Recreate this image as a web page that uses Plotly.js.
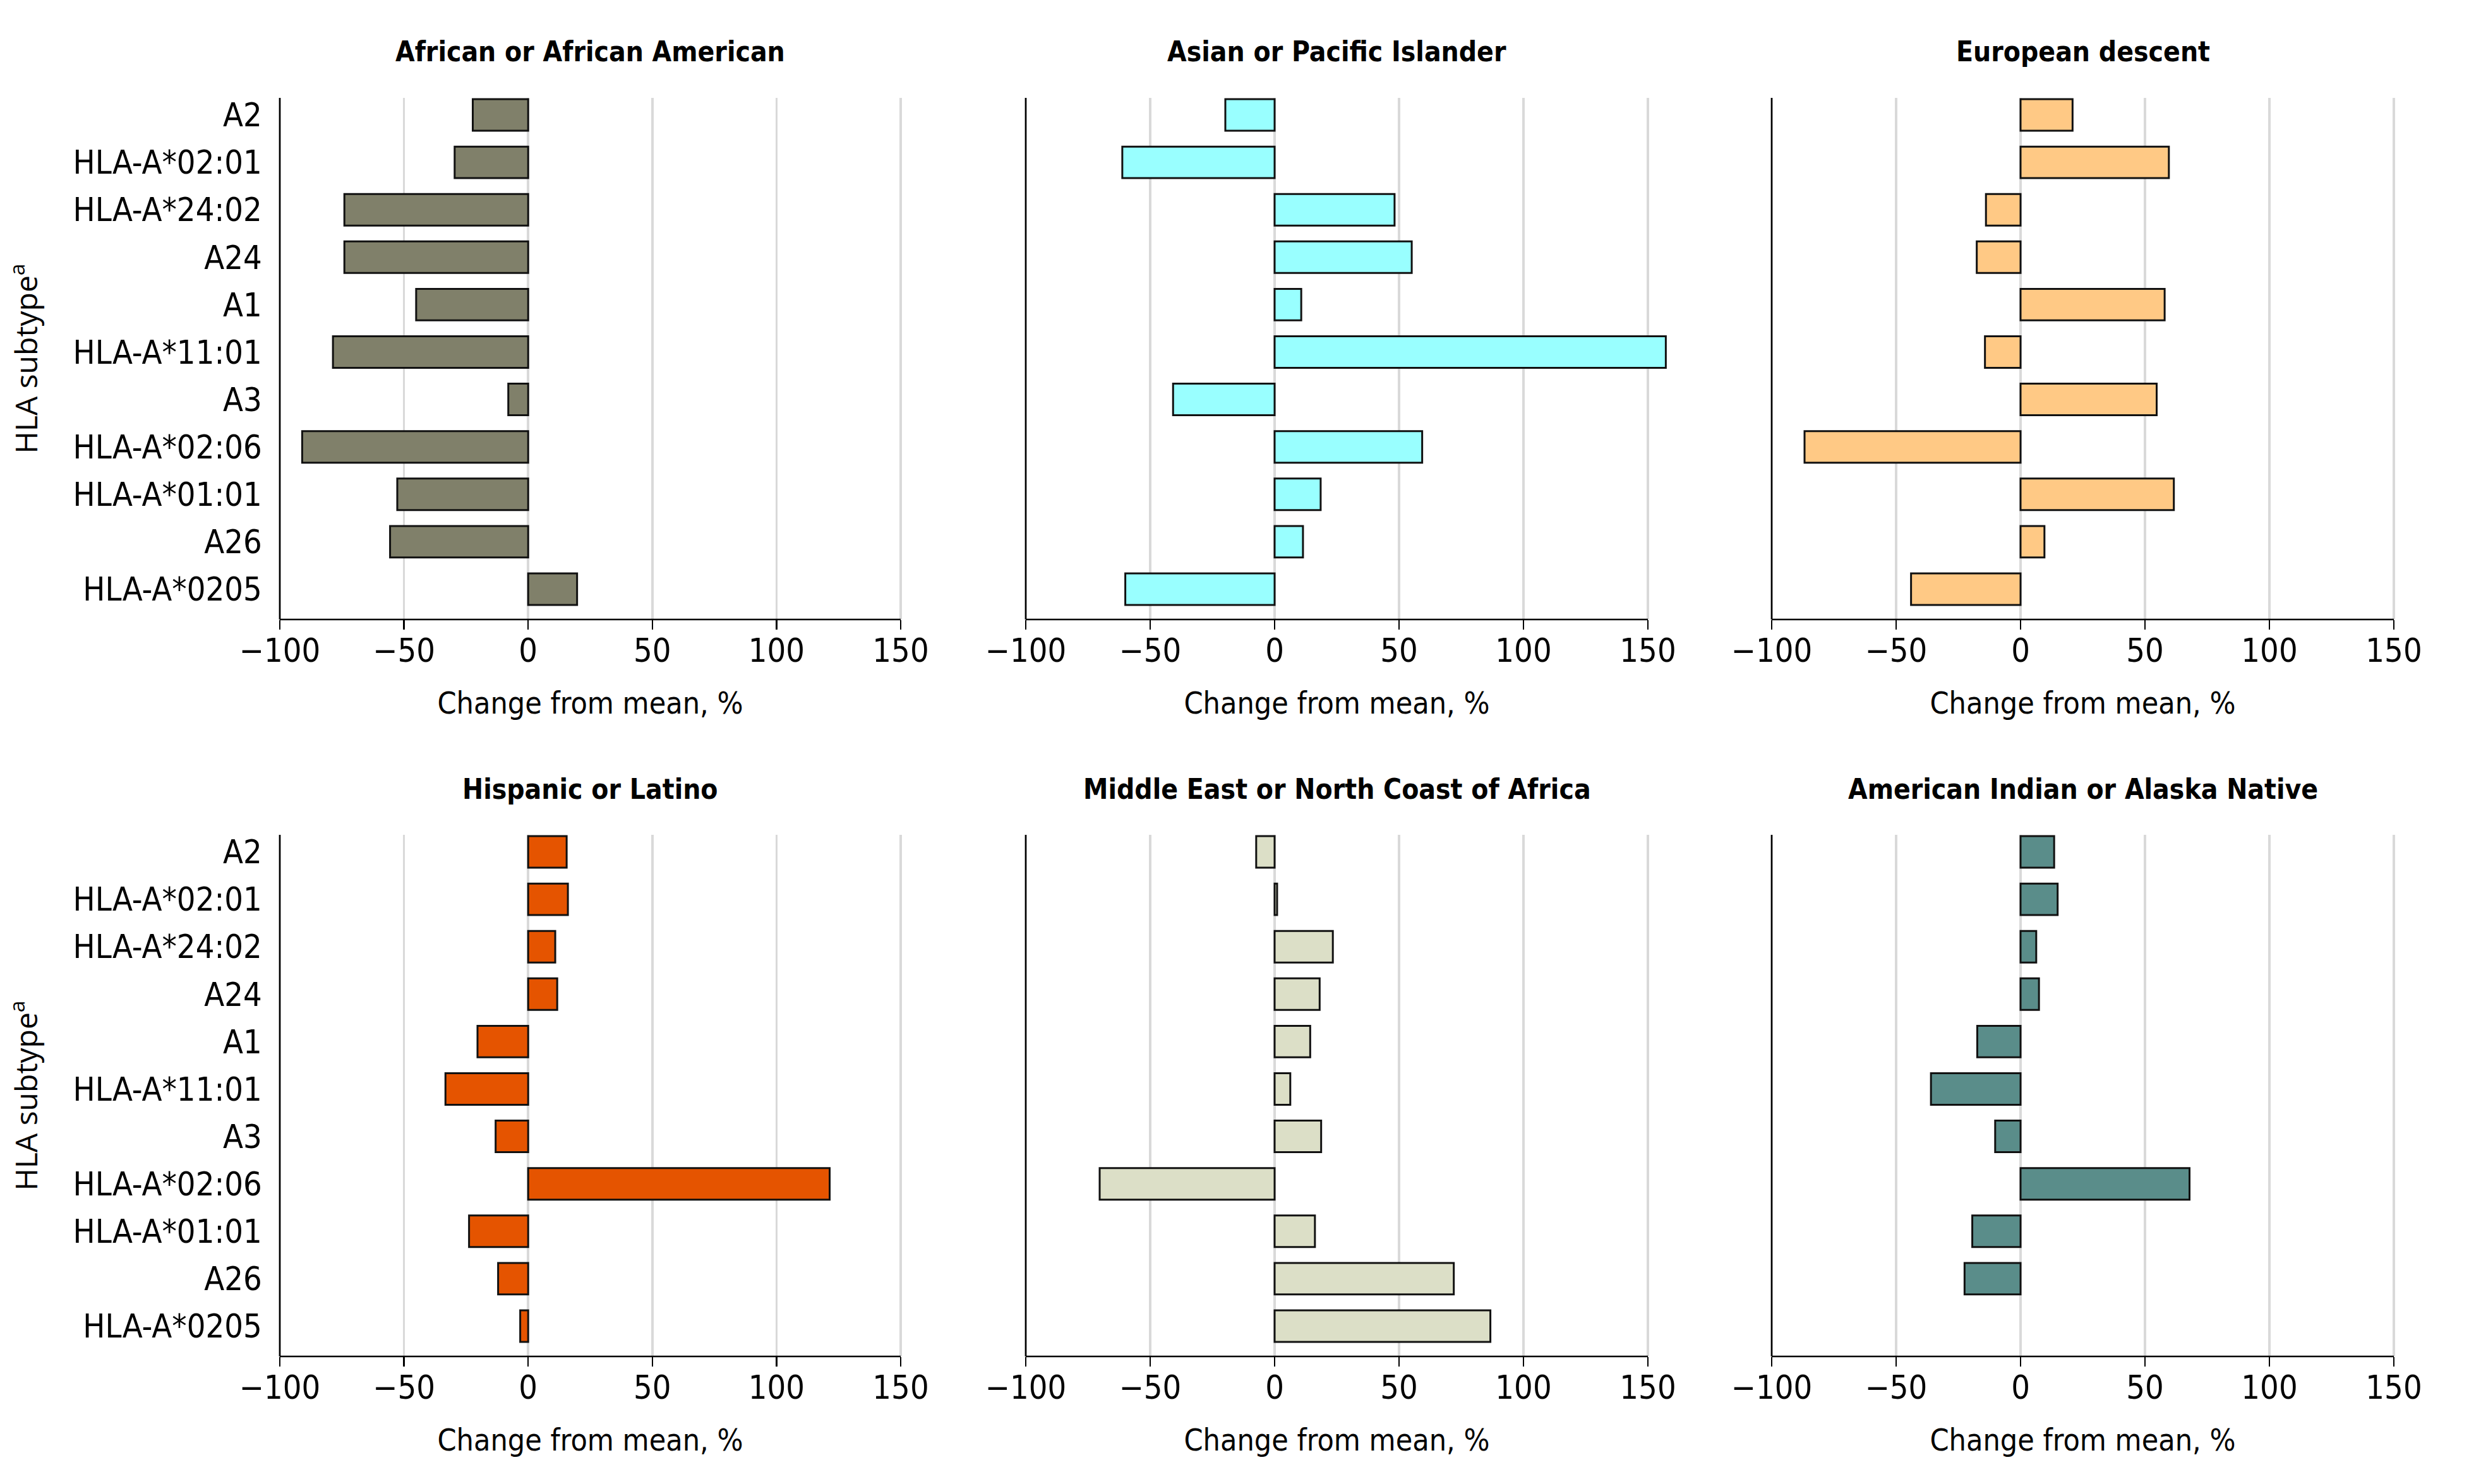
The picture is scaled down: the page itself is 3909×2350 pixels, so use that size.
<!DOCTYPE html>
<html>
<head>
<meta charset="utf-8">
<script src="https://cdn.plot.ly/plotly-3.0.1.min.js"></script>
<style>html,body{margin:0;padding:0;background:#fff;}#chart{width:3909px;height:2350px;}</style>
</head>
<body>
<div id="chart"></div>
<script>
// Data
const subtypes = ["A2","HLA-A*02:01","HLA-A*24:02","A24","A1","HLA-A*11:01","A3","HLA-A*02:06","HLA-A*01:01","A26","HLA-A*0205"];
const panelTitles = ["African or African American","Asian or Pacific Islander","European descent","Hispanic or Latino","Middle East or North Coast of Africa","American Indian or Alaska Native"];
const african = [-22.3,-29.6,-74.0,-74.0,-45.1,-78.6,-8.0,-91.0,-52.7,-55.6,19.7];
const asian = [-19.8,-61.2,48.2,55.1,10.7,157.2,-40.8,59.3,18.5,11.4,-60.0];
const european = [20.9,59.6,-13.9,-17.6,57.9,-14.3,54.7,-86.8,61.6,9.6,-44.0];
const hispanic = [15.5,16.0,10.9,11.7,-20.4,-33.3,-13.1,121.4,-23.8,-12.1,-3.2];
const middleEast = [-7.4,1.0,23.4,18.1,14.3,6.3,18.7,-70.3,16.2,72.0,86.7];
const americanIndian = [13.5,14.9,6.3,7.4,-17.4,-36.0,-10.2,67.9,-19.4,-22.5,null];
const xTicks = [-100,-50,0,50,100,150];
const xTitle = "Change from mean, %";
const yTitle = "HLA subtype<sup>a</sup>";

const series = [african, asian, european, hispanic, middleEast, americanIndian];
const colors = ["#80806a","#99ffff","#ffc985","#e55400","#dcdfc7","#5a8d8a"];

const W = 3909, H = 2350;
// pixel extents of the drawn axis (-100..150) for each column / row
const xDom = [[443,1426],[1624,2609],[2805,3790]];
const yDom = [[155,981],[1322,2148]];
const titleY = [82,1249];
const axMin = -100, axMax = 150, pad = 10; // extra room so the long bar is not clipped

const fam = "DejaVu Sans Condensed, Liberation Sans Narrow, Liberation Sans, sans-serif";
const tickFont = {family:fam, size:52, color:"#000"};
const axTitleFont = {family:fam, size:48, color:"#000"};
const titleFont = {family:fam, size:44, color:"#000", weight:"bold"};

const traces = [];
const layout = {
  width: W, height: H,
  margin: {l:0,r:0,t:0,b:0},
  paper_bgcolor:"#fff", plot_bgcolor:"#fff",
  showlegend:false,
  bargap: 0.335,
  annotations: [],
  shapes: []
};

series.forEach((vals, i) => {
  const row = Math.floor(i/3), col = i%3;
  const n = i+1;
  const xa = n===1 ? "x" : "x"+n;
  const ya = n===1 ? "y" : "y"+n;
  traces.push({
    type:"bar", orientation:"h",
    x: vals, y: subtypes,
    xaxis: xa, yaxis: ya,
    marker:{color: colors[i], line:{color:"#111", width:3}},
    hoverinfo:"x+y"
  });
  const xk = n===1 ? "xaxis" : "xaxis"+n;
  const yk = n===1 ? "yaxis" : "yaxis"+n;
  const pxPerUnit = (xDom[col][1]-xDom[col][0])/(axMax-axMin);
  const padPx = pxPerUnit*pad;
  layout[xk] = {
    domain:[(xDom[col][0]-padPx)/W, (xDom[col][1]+padPx)/W],
    anchor: ya,
    range:[axMin-pad, axMax+pad],
    tickvals: xTicks,
    ticktext: xTicks.map(v => v<0 ? "\u2212"+Math.abs(v) : String(v)),
    ticks:"outside", ticklen:15, tickwidth:2.5, tickcolor:"#000",
    showline:false,
    showgrid:true, gridcolor:"#d9d9d9", gridwidth:3.5,
    zeroline:false,
    tickfont: tickFont,
    ticklabelstandoff: -11,
    title:{text:xTitle, font:axTitleFont, standoff:36},
    fixedrange:true
  };
  // x axis line from -100 to 150 and y axis line at -100
  layout.shapes.push({
    type:"line", xref: xa, yref: ya+" domain",
    x0: axMin, x1: axMax, y0: 0, y1: 0,
    line:{color:"#000", width:2.5}, layer:"above"
  });
  layout.shapes.push({
    type:"line", xref: xa, yref: ya+" domain",
    x0: axMin, x1: axMin, y0: 0, y1: 1,
    line:{color:"#000", width:2.5}, layer:"above"
  });
  const yAx = {
    domain:[1-yDom[row][1]/H, 1-yDom[row][0]/H],
    anchor: xa,
    type:"category",
    categoryorder:"array", categoryarray: subtypes,
    range:[10.64,-0.36],
    showline:false,
    showgrid:false, zeroline:false,
    ticks:"",
    showticklabels: col===0,
    tickfont: tickFont,
    ticklabelstandoff: Math.round(27 - padPx),
    fixedrange:true
  };
  if (col===0) {
    yAx.title = {text:yTitle, font:{family:"Open Sans, Noto Sans, sans-serif", size:48, color:"#000"}, standoff:40};
  }
  layout[yk] = yAx;
  layout.annotations.push({
    text: panelTitles[i],
    xref:"paper", yref:"paper",
    x: (xDom[col][0]+xDom[col][1])/2/W,
    y: 1-titleY[row]/H,
    xanchor:"center", yanchor:"middle",
    showarrow:false,
    font: titleFont
  });
});

Plotly.newPlot("chart", traces, layout, {displayModeBar:false, staticPlot:true});
</script>
</body>
</html>
